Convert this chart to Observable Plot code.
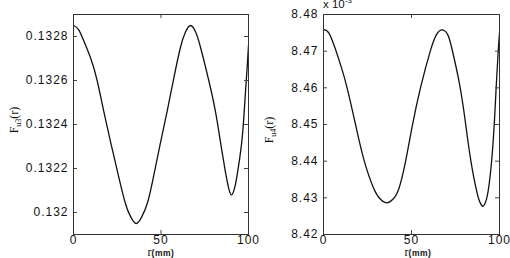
<!DOCTYPE html>
<html><head><meta charset="utf-8">
<script src="https://cdn.jsdelivr.net/npm/d3@7"></script>
<script src="https://cdn.jsdelivr.net/npm/@observablehq/plot@0.6"></script>
<style>
html,body{margin:0;padding:0;background:#fff;}
#wrap{position:relative;width:510px;height:258px;overflow:hidden;background:#fff;}
#wrap svg{position:absolute;top:0;}
</style></head><body><div id="wrap"></div>
<script>
// ---- data ----
const xTicks = [0, 50, 100];

const leftR = [0, 3, 6.9, 10.3, 13.5, 17.3, 21.5, 25.9, 29.7, 32.7, 35.8, 39, 42.5, 45.9, 49.5, 53.5, 57.3, 61.1, 64, 66.9, 69.8, 72.6, 77.3, 81.1, 84, 86.9, 88.7, 90.3, 92, 93.5, 96, 97.3, 98.3, 99.4, 100];
const leftV = [0.13285, 0.13283, 0.13276, 0.13269, 0.13260, 0.13246, 0.13231, 0.13216, 0.13204, 0.13198, 0.13195, 0.13198, 0.13205, 0.13217, 0.13231, 0.13246, 0.13261, 0.13275, 0.13282, 0.13285, 0.13282, 0.13275, 0.13260, 0.13246, 0.13232, 0.13218, 0.13211, 0.13208, 0.13211, 0.13217, 0.13231, 0.13243, 0.13255, 0.13268, 0.13276];
const leftYTicks = [0.132, 0.1322, 0.1324, 0.1326, 0.1328];
const leftYDomain = [0.1319, 0.1329];

const rightR = [0, 3, 6.8, 10.2, 13.4, 18.2, 22.9, 28.6, 32.4, 35.8, 39.4, 42.8, 46.6, 50.4, 55.1, 60.8, 64.2, 67.4, 70.5, 72.8, 77.3, 80.8, 83.8, 87.2, 89, 90.5, 92, 93.6, 95.5, 97, 98.1, 99.3, 100];
const rightV = [8.4759, 8.4750, 8.4705, 8.4655, 8.4600, 8.4500, 8.4405, 8.4325, 8.4296, 8.4286, 8.4296, 8.4325, 8.4399, 8.4495, 8.4600, 8.4702, 8.4745, 8.4758, 8.4746, 8.4710, 8.4610, 8.4500, 8.4399, 8.4315, 8.4287, 8.4277, 8.4287, 8.4320, 8.4399, 8.4500, 8.4600, 8.4702, 8.4750];
const rightYTicks = [8.42, 8.43, 8.44, 8.45, 8.46, 8.47, 8.48];
const rightYDomain = [8.42, 8.48];

const xLabel = {r: "r", unit: "(mm)"};
const leftYLabel = {f: "F", sub: "u3", tail: "(r)"};
const rightYLabel = {f: "F", sub: "u4", tail: "(r)"};
const expLabel = {base: "x 10", exp: "-3"};

// ---- drawing ----
function panel({r, v, yDomain, yTicks, fmt, width, ml, mr}) {
  const H = 258, mt = 14, mb = 24;
  const pw = width - ml - mr, ph = H - mt - mb;
  const data = r.map((x, i) => ({r: x, v: v[i]}));
  return Plot.plot({
    width, height: H, marginLeft: ml, marginRight: mr, marginTop: mt, marginBottom: mb,
    style: {fontFamily: "'Liberation Sans', Arial, sans-serif", fontSize: "12px", color: "#111", background: "transparent", overflow: "visible", letterSpacing: "1px"},
    x: {domain: [0, 100]},
    y: {domain: yDomain},
    marks: [
      Plot.line(data, {x: "r", y: "v", curve: "natural", stroke: "#111", strokeWidth: 1.3, clip: true}),
      Plot.tickY(yTicks, {y: d => d, insetRight: pw - 4, stroke: "#444"}),
      Plot.tickY(yTicks, {y: d => d, insetLeft: pw - 4, stroke: "#444"}),
      Plot.tickX(xTicks, {x: d => d, insetTop: ph - 4, stroke: "#444"}),
      Plot.tickX(xTicks, {x: d => d, insetBottom: ph - 4, stroke: "#444"}),
      Plot.axisY({ticks: yTicks, tickSize: 0, tickPadding: 5, tickFormat: fmt, label: null}),
      Plot.axisX({ticks: xTicks, tickSize: 0, tickPadding: 1, label: null}),
      Plot.frame({stroke: "#333"})
    ]
  });
}

const wrap = document.getElementById("wrap");
const left = panel({r: leftR, v: leftV, yDomain: leftYDomain, yTicks: leftYTicks,
  fmt: d => String(+d.toFixed(4)), width: 255, ml: 73, mr: 7});
left.style.left = "0px";
const right = panel({r: rightR, v: rightV, yDomain: rightYDomain, yTicks: rightYTicks,
  fmt: d => d.toFixed(2), width: 255, ml: 68, mr: 11});
right.style.left = "255px";
wrap.appendChild(left);
wrap.appendChild(right);

// overlay labels
const ov = d3.create("svg").attr("width", 510).attr("height", 258).style("left", "0px")
  .attr("font-family", "'Liberation Serif', 'Times New Roman', serif").attr("fill", "#111");
function yLab(lbl, x, y) {
  const t = ov.append("text").attr("transform", `translate(${x},${y}) rotate(-90)`).attr("text-anchor", "middle").attr("font-size", 12);
  t.append("tspan").text(lbl.f);
  t.append("tspan").attr("font-size", 8).attr("dy", 3).text(lbl.sub);
  t.append("tspan").attr("dy", -3).text(lbl.tail);
}
function xLab(x, y) {
  const t = ov.append("text").attr("x", x).attr("y", y).attr("text-anchor", "middle").attr("font-size", 12);
  t.append("tspan").text(xLabel.r);
  t.append("tspan").attr("font-size", 8.5).attr("font-weight", "bold").attr("font-family", "'Liberation Sans', Arial, sans-serif").attr("letter-spacing", "0.5px").text(xLabel.unit);
}
yLab(leftYLabel, 18, 120);
yLab(rightYLabel, 273, 130);
xLab(161, 256);
xLab(418, 256);
const e = ov.append("text").attr("x", 323).attr("y", 8).attr("font-size", 11.5)
  .attr("font-family", "'Liberation Sans', Arial, sans-serif");
e.append("tspan").text(expLabel.base);
e.append("tspan").attr("font-size", 8).attr("dy", -5).text(expLabel.exp);
wrap.appendChild(ov.node());
</script></body></html>
